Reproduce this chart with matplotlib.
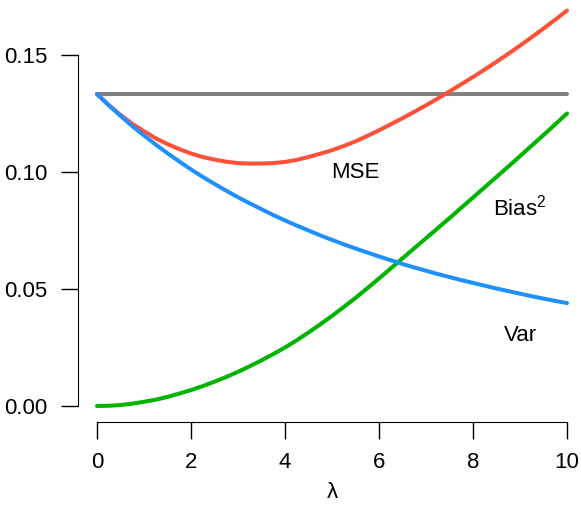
import numpy as np
import matplotlib
matplotlib.use("Agg")
import matplotlib.pyplot as plt

plt.rcParams['font.family'] = ['Liberation Sans', 'DejaVu Sans']
plt.rcParams['mathtext.fontset'] = 'custom'
plt.rcParams['mathtext.rm'] = 'Liberation Sans'
plt.rcParams['mathtext.it'] = 'Liberation Sans:italic'

# values, every quarter step of lambda
lam = [0, 0.25, 0.5, 0.75, 1, 1.25, 1.5, 1.75, 2, 2.25, 2.5, 2.75, 3, 3.25, 3.5, 3.75,
       4, 4.25, 4.5, 4.75, 5, 5.25, 5.5, 5.75, 6, 6.25, 6.5, 6.75, 7, 7.25, 7.5, 7.75,
       8, 8.25, 8.5, 8.75, 9, 9.25, 9.5, 9.75, 10]
var = [0.1333, 0.1285, 0.1240, 0.1196, 0.1156, 0.1117, 0.1080, 0.1045, 0.1011, 0.0979,
       0.0949, 0.0920, 0.0892, 0.0866, 0.0841, 0.0816, 0.0793, 0.0771, 0.0750, 0.0729,
       0.0710, 0.0691, 0.0673, 0.0656, 0.0639, 0.0623, 0.0607, 0.0592, 0.0578, 0.0564,
       0.0551, 0.0538, 0.0526, 0.0514, 0.0502, 0.0491, 0.0480, 0.0469, 0.0459, 0.0449, 0.0440]
bias2 = [0.0, 0.0001, 0.0004, 0.0010, 0.0018, 0.0027, 0.0039, 0.0053, 0.0068, 0.0085,
         0.0104, 0.0124, 0.0146, 0.0170, 0.0195, 0.0222, 0.0250, 0.0281, 0.0314, 0.0349,
         0.0385, 0.0423, 0.0462, 0.0503, 0.0545, 0.0588, 0.0631, 0.0674, 0.0717, 0.0760,
         0.0803, 0.0847, 0.0891, 0.0935, 0.0979, 0.1023, 0.1068, 0.1113, 0.1158, 0.1204, 0.1250]
mse = [0.1333, 0.1286, 0.1244, 0.1206, 0.1174, 0.1144, 0.1119, 0.1098, 0.1079, 0.1064,
       0.1053, 0.1044, 0.1038, 0.1036, 0.1036, 0.1038, 0.1043, 0.1052, 0.1064, 0.1078,
       0.1093, 0.1111, 0.1131, 0.1154, 0.1178, 0.1204, 0.1230, 0.1257, 0.1285, 0.1314,
       0.1344, 0.1375, 0.1406, 0.1438, 0.1471, 0.1505, 0.1540, 0.1576, 0.1613, 0.1651, 0.1690]
ls_level = 0.1333

xticks = [0, 2, 4, 6, 8, 10]
yticks = [0.00, 0.05, 0.10, 0.15]

fig = plt.figure(figsize=(5.81, 5.27), dpi=100)
ax = fig.add_axes([0.1346, 0.1996, 0.8737, 0.8106])

lw = 2.9
ax.plot([lam[0], lam[-1]], [ls_level, ls_level], color='#808080', lw=lw, solid_capstyle='round')
ax.plot(lam, mse, color='#FF5038', lw=lw, solid_capstyle='round')
ax.plot(lam, bias2, color='#00B400', lw=lw, solid_capstyle='round')
ax.plot(lam, var, color='#1E90FF', lw=lw, solid_capstyle='round')

ax.text(5.49, 0.0996, 'MSE', fontsize=16, ha='center', va='center')
ax.text(9.0, 0.0850, r'Bias$^{\mathrm{2}}$', fontsize=16, ha='center', va='center')
ax.text(9.0, 0.0303, 'Var', fontsize=16, ha='center', va='center')

ax.set_xlim(-0.4, 10.4)
ax.set_ylim(-0.00676, 0.1758)

# R style axes
for s in ['top', 'right']:
    ax.spines[s].set_visible(False)
ax.spines['bottom'].set_bounds(0, 10)
ax.spines['left'].set_bounds(0, 0.15)
ax.set_xticks(xticks)
ax.set_yticks(yticks)
ax.set_yticklabels(['%.2f' % v for v in yticks])
ax.tick_params(axis='both', length=12, width=1.0, labelsize=16, pad=10)
ax.set_xlabel('λ', fontsize=16, labelpad=6)

fig.savefig('out.png', dpi=100)
